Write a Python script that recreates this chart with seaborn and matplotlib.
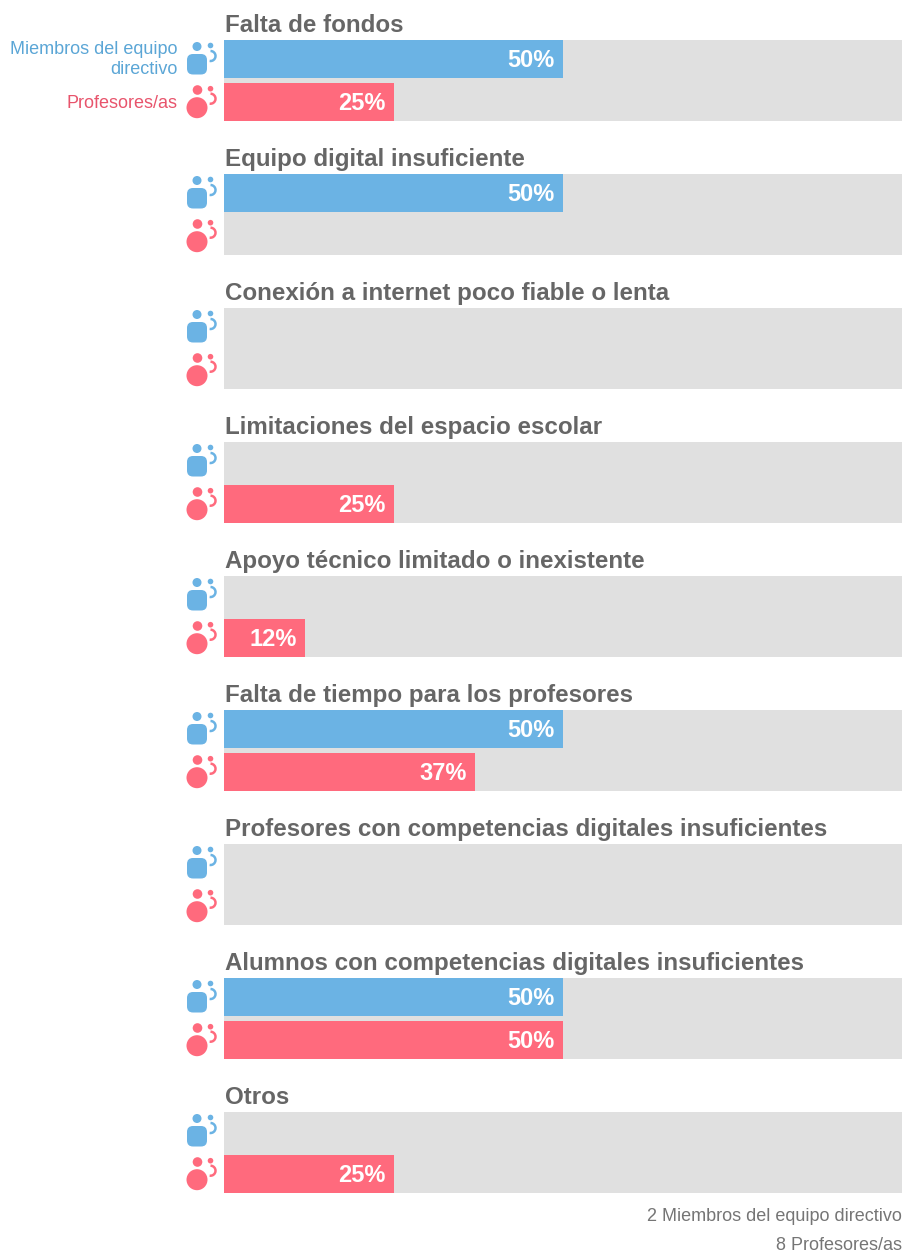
#!/usr/bin/env python3

# Third-party imports.
import matplotlib
import numpy as np
import pandas as pd
import seaborn as sns

matplotlib.use("Agg")
import matplotlib.patches as mpatches
import matplotlib.pyplot as plt

# Data.
categories = [
    "Falta de fondos",
    "Equipo digital insuficiente",
    "Conexión a internet poco fiable o lenta",
    "Limitaciones del espacio escolar",
    "Apoyo técnico limitado o inexistente",
    "Falta de tiempo para los profesores",
    "Profesores con competencias digitales insuficientes",
    "Alumnos con competencias digitales insuficientes",
    "Otros",
]
roles = ["Miembros del equipo directivo", "Profesores/as"]
directivo_values = [50, 50, 0, 0, 0, 50, 0, 50, 0]
profesor_values = [25, 0, 0, 25, 12, 37, 0, 50, 25]
footer_lines = ["2 Miembros del equipo directivo", "8 Profesores/as"]

# Styles.
BLUE = "#6BB3E4"
RED = "#FF6A7D"
BLUE_TEXT = "#5BA6D6"
RED_TEXT = "#E8546C"
GREY_BG = "#E0E0E0"
TITLE_COLOR = "#666666"
FOOTER_COLOR = "#757575"
WIDTH, HEIGHT = 905, 1253


def add_blue_icon(ax, top):
    ax.add_patch(mpatches.Circle((197, top + 6.5), 4.5, color=BLUE, lw=0))
    ax.add_patch(
        mpatches.FancyBboxPatch(
            (192, top + 19),
            10,
            10.5,
            boxstyle="round,pad=5,rounding_size=6",
            color=BLUE,
            lw=0,
        )
    )
    add_hook(ax, top, BLUE, 5.5, 16)


def add_red_icon(ax, top):
    ax.add_patch(mpatches.Circle((197.5, top + 50), 4.8, color=RED, lw=0))
    ax.add_patch(mpatches.Circle((197, top + 67.7), 10.5, color=RED, lw=0))
    add_hook(ax, top, RED, 48.7, 58.7)


def add_hook(ax, top, color, dot_y, arc_y):
    ax.add_patch(mpatches.Circle((210.5, top + dot_y), 2.8, color=color, lw=0))
    ax.add_patch(
        mpatches.Arc(
            (210.5, top + arc_y),
            10,
            10,
            theta1=-90,
            theta2=100,
            color=color,
            lw=1.8,
        )
    )


def main():
    sns.set_theme(style="white")
    plt.rcParams["font.family"] = ["Liberation Sans", "DejaVu Sans"]

    df = pd.DataFrame(
        {
            "category": np.repeat(categories, 2),
            "role": roles * len(categories),
            "value": np.ravel(np.column_stack([directivo_values, profesor_values])),
        }
    )

    fig = plt.figure(figsize=(WIDTH / 100, HEIGHT / 100), dpi=100, facecolor="white")

    # Overlay in pixel coordinates for the icons and side texts.
    overlay = fig.add_axes([0, 0, 1, 1], zorder=3)
    overlay.set_xlim(0, WIDTH)
    overlay.set_ylim(HEIGHT, 0)
    overlay.axis("off")

    for i, category in enumerate(categories):
        top = 40 + 134 * i
        ax = fig.add_axes(
            [224 / WIDTH, 1 - (top + 81) / HEIGHT, 678 / WIDTH, 81 / HEIGHT]
        )
        subset = df[df["category"] == category]
        bar_w = 38 / 43
        sns.barplot(
            data=subset,
            y="role",
            x="value",
            hue="role",
            order=roles,
            hue_order=roles,
            palette=[BLUE, RED],
            width=bar_w,
            dodge=False,
            legend=False,
            errorbar=None,
            saturation=1,
            linewidth=0,
            ax=ax,
        )
        ax.set_facecolor(GREY_BG)
        ax.set_xlim(0, 100)
        ax.set_ylim(1 + bar_w / 2, -bar_w / 2)
        ax.set_xlabel("")
        ax.set_ylabel("")
        ax.set_xticks([])
        ax.set_yticks([])
        sns.despine(ax=ax, left=True, bottom=True)

        for row, value in enumerate(subset["value"]):
            if value > 0:
                ax.annotate(
                    f"{value}%",
                    (value, row),
                    xytext=(-6, 0.7),
                    textcoords="offset points",
                    ha="right",
                    va="center_baseline",
                    color="white",
                    fontsize=17,
                    fontweight="bold",
                )

        overlay.text(
            225,
            top - 8,
            category,
            ha="left",
            va="baseline",
            color=TITLE_COLOR,
            fontsize=17.35,
            fontweight="bold",
        )
        add_blue_icon(overlay, top)
        add_red_icon(overlay, top)

    overlay.text(177.5, 54, "Miembros del equipo", ha="right", va="baseline",
                 color=BLUE_TEXT, fontsize=13)
    overlay.text(177.5, 74, "directivo", ha="right", va="baseline",
                 color=BLUE_TEXT, fontsize=13)
    overlay.text(177.5, 108, roles[1], ha="right", va="baseline",
                 color=RED_TEXT, fontsize=13)

    overlay.text(902, 1221, footer_lines[0], ha="right", va="baseline",
                 color=FOOTER_COLOR, fontsize=13)
    overlay.text(902, 1250, footer_lines[1], ha="right", va="baseline",
                 color=FOOTER_COLOR, fontsize=13)

    fig.savefig("out.png", dpi=100)
    plt.close(fig)


if __name__ == "__main__":
    main()
